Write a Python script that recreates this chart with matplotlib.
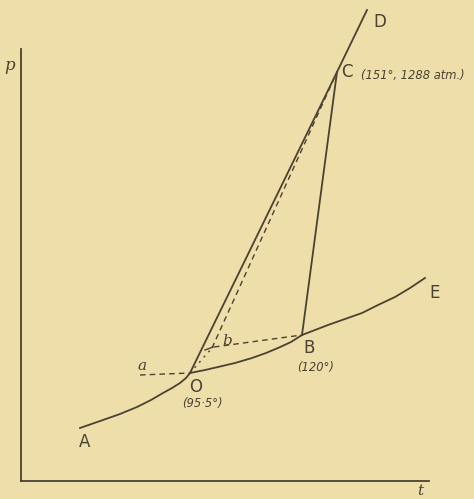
import numpy as np
import matplotlib
matplotlib.use('Agg')
import matplotlib.pyplot as plt

# curve points (arbitrary t, p units, origin at axis corner)
ao_t = [59, 82, 99, 116, 130, 142, 151, 159, 165, 169]
ao_p = [53, 61, 67, 74, 81, 88, 93, 98, 103, 108]
ob_t = [169, 184, 197, 214, 231, 245, 257, 270, 281]
ob_p = [108, 111, 114, 118, 123, 128, 133, 139, 146]
be_t = [281, 294, 307, 324, 341, 357, 374, 389, 404]
be_p = [146, 151, 156, 162, 168, 176, 184, 193, 203]
od_t = [169, 316, 346]
od_p = [108, 409, 471]
bc_t = [281, 316]
bc_p = [146, 409]
# metastable (dashed / dotted) lines
a_t = [119, 169]
a_p = [106, 108]
ob_dot_t = [169, 191]
ob_dot_p = [108, 133]
bC_t = [191, 316]
bC_p = [133, 409]
bB_t = [193, 281]
bB_p = [134, 146]

bg = '#eedeaa'
ink = '#4a4232'

fig = plt.figure(figsize=(4.74, 4.99), dpi=100, facecolor=bg)
ax = fig.add_axes([21/474, 18/499, 408/474, 432/499])
ax.set_facecolor(bg)
ax.set_xlim(0, 408)
ax.set_ylim(0, 432)
for s in ['top', 'right']:
    ax.spines[s].set_visible(False)
for s in ['left', 'bottom']:
    ax.spines[s].set_color(ink)
    ax.spines[s].set_linewidth(1.3)
ax.set_xticks([])
ax.set_yticks([])

kw = dict(color=ink, lw=1.3, clip_on=False, solid_joinstyle='round')
ax.plot(ao_t, ao_p, **kw)
ax.plot(ob_t, ob_p, **kw)
ax.plot(be_t, be_p, **kw)
ax.plot(od_t, od_p, **kw)
ax.plot(bc_t, bc_p, **kw)
dkw = dict(color=ink, lw=1.0, clip_on=False, dashes=(4, 3))
ax.plot(a_t, a_p, **dkw)
ax.plot(bC_t, bC_p, **dkw)
ax.plot(bB_t, bB_p, **dkw)
ax.plot(ob_dot_t, ob_dot_p, color=ink, lw=1.0, dashes=(1.5, 3.5))
ax.plot([184, 192], [131, 134], color=ink, lw=1.0)

sans = dict(color=ink, family='DejaVu Sans', clip_on=False)
ax.text(352, 459, 'D', fontsize=12, va='center', **sans)
ax.text(320, 409, 'C', fontsize=12, va='center', **sans)
ax.text(340, 405, '(151°, 1288 atm.)', fontsize=8.3, style='italic', va='center', **sans)
ax.text(408, 188, 'E', fontsize=12, va='center', **sans)
ax.text(282, 133, 'B', fontsize=12, va='center', **sans)
ax.text(295, 114, '(120°)', fontsize=8.3, style='italic', ha='center', va='center', **sans)
ax.text(168, 94, 'O', fontsize=12, va='center', **sans)
ax.text(181, 77, '(95·5°)', fontsize=8.3, style='italic', ha='center', va='center', **sans)
ax.text(58, 39, 'A', fontsize=12, va='center', **sans)

serif = dict(color=ink, family='DejaVu Serif', style='italic', clip_on=False)
ax.text(121, 115, 'a', fontsize=11, va='center', ha='center', **serif)
ax.text(206, 140, 'b', fontsize=11, va='center', ha='center', **serif)
ax.text(-11, 416, 'p', fontsize=12, va='center', ha='center', **serif)
ax.text(399, -10, 't', fontsize=11, va='center', ha='center', **serif)

fig.savefig('out.png', dpi=100, facecolor=bg)
